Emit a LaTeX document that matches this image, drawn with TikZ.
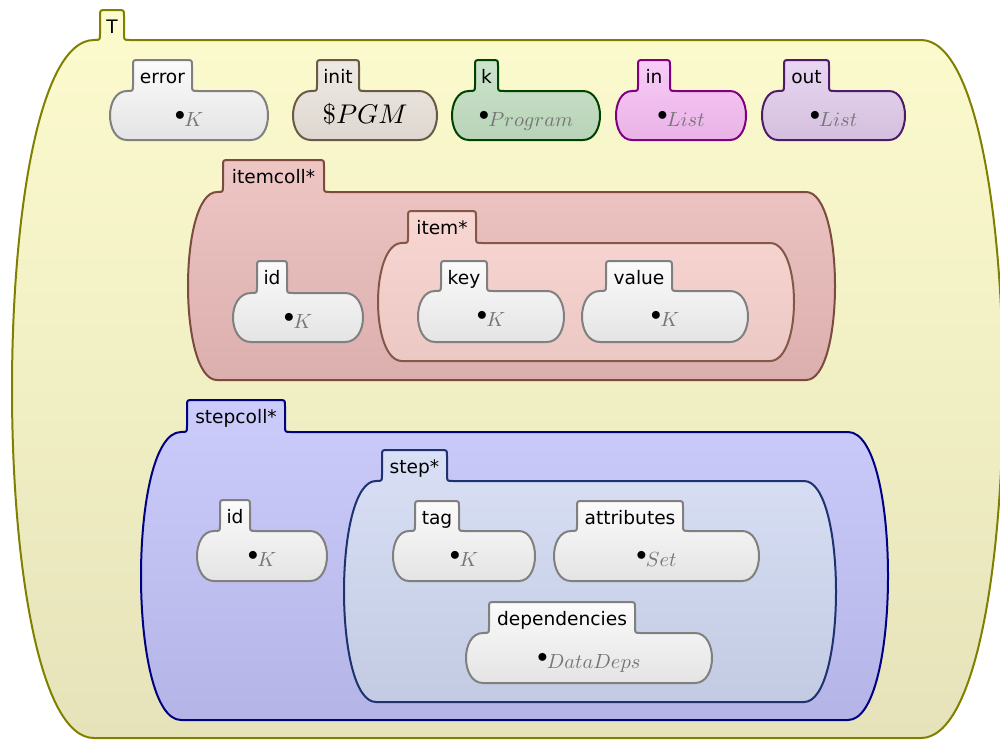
\documentclass[tikz,border=0pt]{standalone}
\usepackage[no-math]{fontspec}
\newfontfamily\lblfont{DejaVu Sans}
% scalable Computer Modern shapes for large math
\DeclareFontShape{OML}{cmm}{m}{it}{<->cmmi10}{\skewchar\font=127 }
\DeclareFontShape{OMS}{cmsy}{m}{n}{<->cmsy10}{\skewchar\font=48 }
\DeclareFontShape{OT1}{cmr}{m}{n}{<->cmr10}{}

% cell colours
\definecolor{tBorder}{RGB}{128,128,0}
\definecolor{tTop}{RGB}{252,251,206}
\definecolor{tBot}{RGB}{230,227,186}
\definecolor{wBorder}{RGB}{128,128,128}
\definecolor{wTop}{RGB}{251,251,251}
\definecolor{wBot}{RGB}{228,228,228}
\definecolor{iBorder}{RGB}{105,90,70}
\definecolor{iTop}{RGB}{238,234,228}
\definecolor{iBot}{RGB}{222,215,208}
\definecolor{kBorder}{RGB}{0,66,0}
\definecolor{kTop}{RGB}{204,228,204}
\definecolor{kBot}{RGB}{184,211,184}
\definecolor{inBorder}{RGB}{128,0,128}
\definecolor{inTop}{RGB}{248,204,248}
\definecolor{inBot}{RGB}{234,178,230}
\definecolor{outBorder}{RGB}{78,28,102}
\definecolor{outTop}{RGB}{232,214,242}
\definecolor{outBot}{RGB}{212,192,222}
\definecolor{icBorder}{RGB}{125,75,62}
\definecolor{icTop}{RGB}{238,198,196}
\definecolor{icBot}{RGB}{219,175,173}
\definecolor{itBorder}{RGB}{132,88,72}
\definecolor{itTop}{RGB}{248,214,210}
\definecolor{itBot}{RGB}{236,200,196}
\definecolor{scBorder}{RGB}{0,0,130}
\definecolor{scTop}{RGB}{204,204,252}
\definecolor{scBot}{RGB}{180,180,230}
\definecolor{stBorder}{RGB}{30,50,112}
\definecolor{stTop}{RGB}{217,224,246}
\definecolor{stBot}{RGB}{194,203,226}
\definecolor{sortgray}{RGB}{118,118,118}

% K-style cell: tab on top, body with bowed sides
% #1 style, #2 xl, #3 xr, #4 body top, #5 body bottom, #6 tab left, #7 tab right, #8 tab top
\newcommand{\kcell}[8]{%
  \pgfmathsetmacro\cA{#6-6}%
  \pgfmathsetmacro\cD{\cA-#2}%
  \pgfmathsetmacro\cL{#2-\cD/3}%
  \pgfmathsetmacro\cR{#3+\cD/3}%
  \pgfmathsetmacro\cB{#3-\cD}%
  \pgfmathsetmacro\cE{#7+6}%
  \pgfmathsetmacro\cF{#4-6}%
  \path[#1] (\cA,#4) .. controls (#6,#4) .. (#6,\cF)
    -- (#6,#8+6) .. controls (#6,#8) .. (#6+6,#8)
    -- (#7-6,#8) .. controls (#7,#8) .. (#7,#8+6)
    -- (#7,\cF) .. controls (#7,#4) .. (\cE,#4)
    -- (\cB,#4) .. controls (\cR,#4) and (\cR,#5) .. (\cB,#5)
    -- (\cA,#5) .. controls (\cL,#5) and (\cL,#4) .. (\cA,#4) -- cycle;%
}

\tikzset{
  cell/.style={line width=2pt, line join=round},
  cT/.style={cell, draw=tBorder, top color=tTop, bottom color=tBot},
  cW/.style={cell, draw=wBorder, top color=wTop, bottom color=wBot},
  cInit/.style={cell, draw=iBorder, top color=iTop, bottom color=iBot},
  cK/.style={cell, draw=kBorder, top color=kTop, bottom color=kBot},
  cIn/.style={cell, draw=inBorder, top color=inTop, bottom color=inBot},
  cOut/.style={cell, draw=outBorder, top color=outTop, bottom color=outBot},
  cIC/.style={cell, draw=icBorder, top color=icTop, bottom color=icBot},
  cIt/.style={cell, draw=itBorder, top color=itTop, bottom color=itBot},
  cSC/.style={cell, draw=scBorder, top color=scTop, bottom color=scBot},
  cSt/.style={cell, draw=stBorder, top color=stTop, bottom color=stBot},
  lbl/.style={font=\lblfont\fontsize{18.6}{21}\selectfont, anchor=base,
    inner sep=0pt, text height=14pt, text depth=3pt},
  srt/.style={font=\fontsize{20.5}{23}\selectfont, anchor=base,
    inner sep=0pt, text height=15pt, text depth=5pt},
  pgm/.style={font=\fontsize{27}{30}\selectfont, anchor=base,
    inner sep=0pt, text height=19pt, text depth=4pt},
}
% bullet followed by a grey sort name
\newcommand{\dotsort}[1]{\raisebox{0.27em}{$\bullet$}\kern-0.04em${\color{sortgray}#1}$}

\begin{document}
\begin{tikzpicture}[x=1pt, y=-1pt]
\useasboundingbox (0,0) rectangle (1000,740);

% top-level cell
\kcell{cT}{12}{1003}{40}{738}{100}{124}{10}
\node[lbl] (lT) at (112,33.5) {T};

% first row of leaf cells
\kcell{cW}{110}{268}{91}{140}{133}{192}{60}
\node[lbl] (lError) at (162.5,83.5) {error};
\node[srt] (vError) at (189,126) {\dotsort{K}};

\kcell{cInit}{293}{437}{91}{140}{317}{359}{60}
\node[lbl] (lInit) at (338,83.5) {init};
\node[pgm] (vInit) at (365,123) {$\$PGM$};

\kcell{cK}{452}{600}{91}{140}{475}{498}{60}
\node[lbl] (lK) at (486.5,83.5) {k};
\node[srt] (vK) at (526,126) {\dotsort{Program}};

\kcell{cIn}{616}{746}{91}{140}{638}{670}{60}
\node[lbl] (lIn) at (654,83.5) {in};
\node[srt] (vIn) at (681,126) {\dotsort{List}};

\kcell{cOut}{762}{905}{91}{140}{784}{829}{60}
\node[lbl] (lOut) at (806.5,83.5) {out};
\node[srt] (vOut) at (833.5,126) {\dotsort{List}};

% item collection
\kcell{cIC}{188}{835}{192}{380}{223}{324}{160}
\node[lbl] (lItemcoll) at (273.5,183.5) {itemcoll*};

\kcell{cW}{233}{363}{293}{342}{257}{287}{261}
\node[lbl] (lIdA) at (272,284.5) {id};
\node[srt] (vIdA) at (298,328) {\dotsort{K}};

\kcell{cIt}{378}{794}{243}{361}{408}{476}{211}
\node[lbl] (lItem) at (442,234.5) {item*};

\kcell{cW}{418}{564}{291}{342}{441}{487}{261}
\node[lbl] (lKey) at (464,284.5) {key};
\node[srt] (vKey) at (491,326) {\dotsort{K}};

\kcell{cW}{582}{748}{291}{342}{606}{672}{261}
\node[lbl] (lValue) at (639,284.5) {value};
\node[srt] (vValue) at (665,326) {\dotsort{K}};

% step collection
\kcell{cSC}{141}{888}{432}{720}{187}{285}{400}
\node[lbl] (lStepcoll) at (236,423.5) {stepcoll*};

\kcell{cW}{197}{327}{531}{581}{220}{250}{500}
\node[lbl] (lIdB) at (235,523.5) {id};
\node[srt] (vIdB) at (262,566) {\dotsort{K}};

\kcell{cSt}{344}{836}{481}{702}{382}{447}{450}
\node[lbl] (lStep) at (414.5,473.5) {step*};

\kcell{cW}{393}{535}{531}{581}{415}{459}{501}
\node[lbl] (lTag) at (437,524.5) {tag};
\node[srt] (vTag) at (464,566) {\dotsort{K}};

\kcell{cW}{554}{759}{531}{581}{577}{683}{501}
\node[lbl] (lAttr) at (630,524.5) {attributes};
\node[srt] (vAttr) at (656.5,566) {\dotsort{Set}};

\kcell{cW}{466}{712}{633}{683}{489}{635}{602}
\node[lbl] (lDeps) at (562,625.5) {dependencies};
\node[srt] (vDeps) at (589,668) {\dotsort{DataDeps}};
\end{tikzpicture}
\end{document}
